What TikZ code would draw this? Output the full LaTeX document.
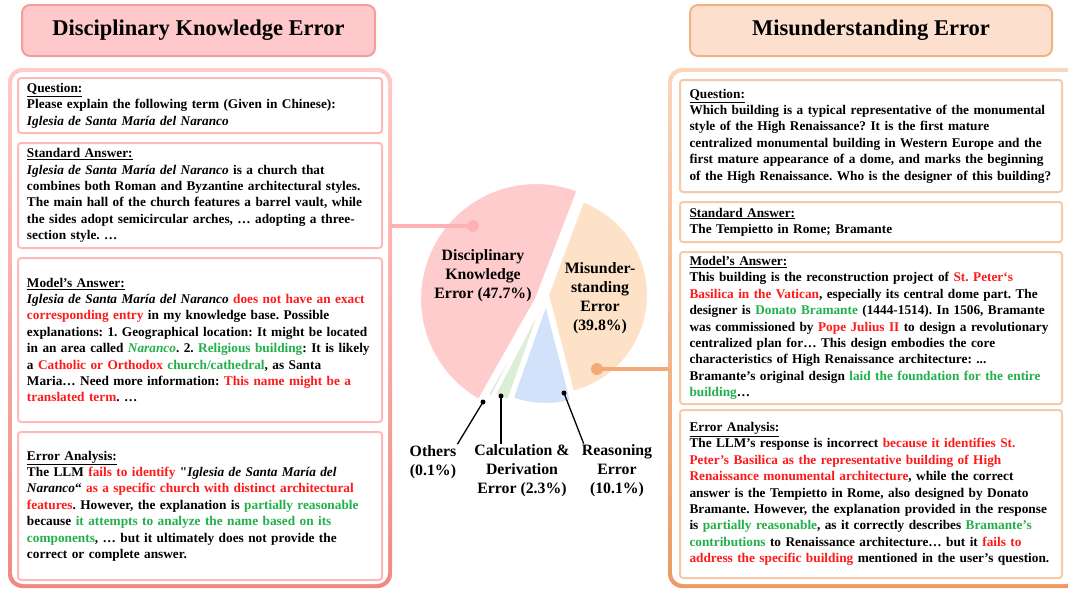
\documentclass[tikz,border=0pt]{standalone}
\usepackage{fontspec}
\setmainfont{Liberation Serif}
\usepackage{xcolor}
\usepackage{tikz}
\usetikzlibrary{positioning}

\definecolor{dkeFill}{RGB}{255,200,202}
\definecolor{dkeLine}{RGB}{244,156,156}
\definecolor{dkeTop}{RGB}{255,202,202}
\definecolor{dkeBottom}{RGB}{240,138,128}
\definecolor{dkeBox}{RGB}{255,185,186}
\definecolor{dkeLink}{RGB}{255,178,182}
\definecolor{meFill}{RGB}{252,224,205}
\definecolor{meLine}{RGB}{242,178,131}
\definecolor{meTop}{RGB}{250,214,190}
\definecolor{meBottom}{RGB}{238,154,98}
\definecolor{meBox}{RGB}{248,201,166}
\definecolor{meLink}{RGB}{243,170,118}
\definecolor{pieRed}{RGB}{255,204,206}
\definecolor{pieOrange}{RGB}{253,226,200}
\definecolor{pieBlue}{RGB}{211,226,251}
\definecolor{pieGreen}{RGB}{220,239,214}
\definecolor{pieGray}{RGB}{222,222,222}
\definecolor{errRed}{RGB}{255,26,26}
\definecolor{okGreen}{RGB}{34,176,75}

\newcommand{\redtxt}[1]{\textcolor{errRed}{#1}}
\newcommand{\greentxt}[1]{\textcolor{okGreen}{#1}}
\newcommand{\church}{\textit{Iglesia de Santa María del Naranco}}

\begin{document}
\begin{tikzpicture}[x=1pt,y=1pt,node distance=10pt,
  title node/.style={draw,line width=2pt,rounded corners=8pt,minimum height=51pt,
    font=\bfseries\fontsize{22.5}{27}\selectfont},
  panel/.style={rounded corners=14pt,minimum height=520pt,inner sep=0pt,outer sep=0pt},
  panel in/.style={fill=white,rounded corners=11pt,minimum height=512pt,inner sep=0pt},
  text box/.style={draw,line width=2pt,rounded corners=3pt,fill=white,align=left,
    inner ysep=2pt,outer sep=0pt,font=\bfseries\fontsize{13.3}{16.4}\selectfont,
    execute at begin node={\frenchspacing\hyphenpenalty=10000\exhyphenpenalty=10000}},
  dke box/.style={text box,draw=dkeBox,text width=346pt,inner xsep=9pt},
  me box/.style={text box,draw=meBox,text width=363pt,inner xsep=9.5pt},
  slice/.style={draw=white,line width=2pt},
  pie label/.style={align=center,inner sep=1pt,font=\bfseries\fontsize{15.8}{19}\selectfont},
  dot/.style={circle,fill=black,inner sep=0pt,minimum size=5pt},
  leader/.style={draw,line width=1.3pt}]

  \useasboundingbox (0,0) rectangle (1068,-590);
  \clip (0,0) rectangle (1068,-590);

  % headers
  \node[title node,fill=dkeFill,draw=dkeLine,minimum width=353pt] (dke_title) at (198.5,-30.5) {Disciplinary Knowledge Error};
  \node[title node,fill=meFill,draw=meLine,minimum width=362pt] (me_title) at (871,-30.5) {Misunderstanding Error};

  % panels
  \node[panel,top color=dkeTop,bottom color=dkeBottom,minimum width=384pt] (dke_panel) at (200,-328) {};
  \node[panel in,minimum width=376pt] (dke_panel_in) at (200,-328) {};
  \node[panel,top color=meTop,bottom color=meBottom,minimum width=412pt] (me_panel) at (874,-328) {};
  \node[panel in,minimum width=404pt] (me_panel_in) at (874,-328) {};

  % left column
  \node[dke box,minimum height=55pt] (dke_q) at (200,-105.5) {\underline{Question:}\\
    Please explain the following term (Given in Chinese):\\
    \church};
  \node[dke box,minimum height=105pt,below=of dke_q] (dke_std) {\underline{Standard Answer:}\\
    \church{} is a church that\\
    combines both Roman and Byzantine architectural styles.\\
    The main hall of the church features a barrel vault, while\\
    the sides adopt semicircular arches, … adopting a three-\\
    section style. …};
  \node[dke box,minimum height=164pt,below=of dke_std] (dke_model) {\underline{Model’s Answer:}\\
    \church{} \redtxt{does not have an exact}\\
    \redtxt{corresponding entry} in my knowledge base. Possible\\
    explanations: 1. Geographical location: It might be located\\
    in an area called \greentxt{\textit{Naranco}}. 2. \greentxt{Religious building}: It is likely\\
    a \redtxt{Catholic or Orthodox} \greentxt{church/cathedral}, as Santa\\
    Maria… Need more information: \redtxt{This name might be a}\\
    \redtxt{translated term}. …};
  \node[dke box,minimum height=148pt,below=of dke_model] (dke_err) {\underline{Error Analysis:}\\
    The LLM \redtxt{fails to identify} \textquotedbl\textit{Iglesia de Santa María del}\\
    \textit{Naranco}“ \redtxt{as a specific church with distinct architectural}\\
    \redtxt{features}. However, the explanation is \greentxt{partially reasonable}\\
    because \greentxt{it attempts to analyze the name based on its}\\
    \greentxt{components}, … but it ultimately does not provide the\\
    correct or complete answer.};

  % right column
  \node[me box,minimum height=112pt] (me_q) at (871,-136) {\underline{Question:}\\
    Which building is a typical representative of the monumental\\
    style of the High Renaissance? It is the first mature\\
    centralized monumental building in Western Europe and the\\
    first mature appearance of a dome, and marks the beginning\\
    of the High Renaissance. Who is the designer of this building?};
  \node[me box,minimum height=40pt,below=of me_q] (me_std) {\underline{Standard Answer:}\\
    The Tempietto in Rome; Bramante};
  \node[me box,minimum height=152pt,below=of me_std] (me_model) {\underline{Model’s Answer:}\\
    This building is the reconstruction project of \redtxt{St. Peter‘s}\\
    \redtxt{Basilica in the Vatican}, especially its central dome part. The\\
    designer is \greentxt{Donato Bramante} (1444-1514). In 1506, Bramante\\
    was commissioned by \redtxt{Pope Julius II} to design a revolutionary\\
    centralized plan for… This design embodies the core\\
    characteristics of High Renaissance architecture: ...\\
    Bramante's original design \greentxt{laid the foundation for the entire}\\
    \greentxt{building}…};
  \node[me box,minimum height=168pt,below=6pt of me_model] (me_err) {\underline{Error Analysis:}\\
    The LLM's response is incorrect \redtxt{because it identifies St.}\\
    \redtxt{Peter's Basilica as the representative building of High}\\
    \redtxt{Renaissance monumental architecture}, while the correct\\
    answer is the Tempietto in Rome, also designed by Donato\\
    Bramante. However, the explanation provided in the response\\
    is \greentxt{partially reasonable}, as it correctly describes \greentxt{Bramante's}\\
    \greentxt{contributions} to Renaissance architecture… but it \redtxt{fails to}\\
    \redtxt{address the specific building} mentioned in the user's question.};

  % pie
  \coordinate (dk_apex) at (536,-299);
  \coordinate (ot_apex) at (541,-301);
  \coordinate (cd_apex) at (543,-302);
  \coordinate (re_apex) at (546,-304);
  \coordinate (mu_apex) at (548,-295);
  \fill[pieRed,slice] (dk_apex) -- ++(69:116) arc[start angle=69,end angle=240.5,radius=116] -- cycle;
  \fill[pieGray,slice] (ot_apex) -- ++(240.5:108) arc[start angle=240.5,end angle=242.5,radius=108] -- cycle;
  \fill[pieGreen,slice] (cd_apex) -- ++(242.5:104) arc[start angle=242.5,end angle=250.5,radius=104] -- cycle;
  \fill[pieBlue,slice] (re_apex) -- ++(250.5:100) arc[start angle=250.5,end angle=284.5,radius=100] -- cycle;
  \fill[pieOrange,slice] (mu_apex) -- ++(-75.5:100) arc[start angle=-75.5,end angle=69.5,radius=100] -- cycle;

  \node[pie label] (dk_lbl) at (483,-276) {Disciplinary\\Knowledge\\Error (47.7\%)};
  \node[pie label] (mu_lbl) at (600,-298) {Misunder-\\standing\\Error\\(39.8\%)};
  \node[pie label] (ot_lbl) at (433,-462) {Others\\(0.1\%)};
  \node[pie label] (cd_lbl) at (522,-471) {Calculation \&\\Derivation\\Error (2.3\%)};
  \node[pie label] (re_lbl) at (617,-471) {Reasoning\\Error\\(10.1\%)};

  \node[dot] (ot_dot) at (483,-402) {};
  \node[dot] (cd_dot) at (501,-396) {};
  \node[dot] (re_dot) at (564,-393) {};
  \path[leader]
    (ot_dot.center) edge (ot_lbl.north east)
    (cd_dot.center) edge (cd_dot.center |- cd_lbl.north)
    (re_dot.center) edge ([xshift=3pt]re_lbl.north west);

  % links to the panels
  \node[circle,fill=dkeLink,inner sep=0pt,minimum size=12pt] (dk_dot) at (473,-226) {};
  \node[circle,fill=meLink,inner sep=0pt,minimum size=12pt] (mu_dot) at (597,-369) {};
  \draw[dkeLink,line width=4pt] (dke_panel.east |- dk_dot) -- (dk_dot.center);
  \draw[meLink,line width=4pt] (mu_dot.center) -- (me_panel.west |- mu_dot);
\end{tikzpicture}
\end{document}
